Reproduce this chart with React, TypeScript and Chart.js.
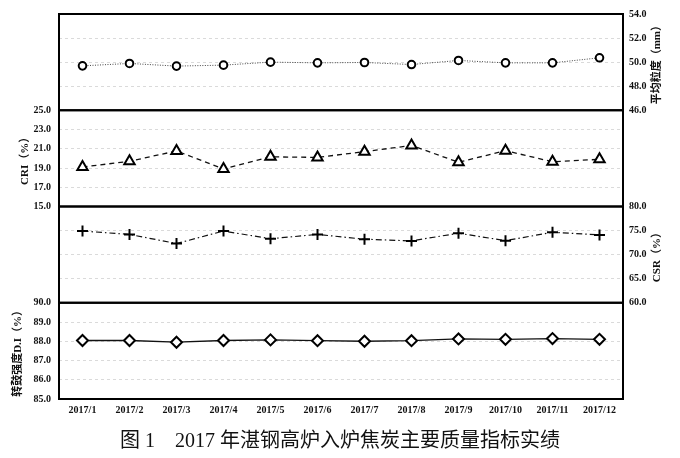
import React, { useEffect, useRef } from "react";
import { Chart, registerables } from "chart.js";

Chart.register(...registerables);

const months = ["2017/1", "2017/2", "2017/3", "2017/4", "2017/5", "2017/6", "2017/7", "2017/8", "2017/9", "2017/10", "2017/11", "2017/12"];
const avgSize = [49.69, 49.89, 49.67, 49.75, 50.0, 49.94, 49.97, 49.8, 50.14, 49.94, 49.94, 50.36];
const cri = [19.1, 19.7, 20.77, 18.9, 20.16, 20.1, 20.7, 21.34, 19.6, 20.8, 19.65, 19.9];
const csr = [74.9, 74.2, 72.3, 74.9, 73.3, 74.2, 73.2, 72.85, 74.45, 72.9, 74.65, 74.1];
const di = [88.04, 88.04, 87.95, 88.04, 88.07, 88.03, 88.0, 88.03, 88.12, 88.1, 88.14, 88.1];

const sizeTitle = "平均粒度（mm）";
const criTitle = "CRI（%）";
const csrTitle = "CSR（%）";
const diTitle = "转鼓强度D.I（%）";
const caption = "图 1　2017 年湛钢高炉入炉焦炭主要质量指标实绩";

const SERIF = "'Liberation Serif', 'Times New Roman', 'Noto Sans CJK SC', serif";
const LEFT_W = 59;
const RIGHT_W = 57;

const gridColor = (ctx: any) => {
  const s = ctx.scale;
  const v = ctx.tick ? ctx.tick.value : null;
  if (v === s.min || v === s.max) return "rgba(0,0,0,0)";
  return "#dadada";
};

function dataAxis(position: string, stack: string, weight: number, min: number, max: number, step: number) {
  return {
    type: "linear",
    position,
    stack,
    stackWeight: 1,
    weight,
    min,
    max,
    afterFit: (s: any) => {
      s.width = position === "left" ? LEFT_W : RIGHT_W;
    },
    ticks: {
      stepSize: step,
      autoSkip: false,
      padding: position === "left" ? 8 : 6,
      color: "#111",
      font: { family: SERIF, size: 10, weight: "bold" },
      callback: (v: any) => Number(v).toFixed(1),
    },
    grid: { color: gridColor, lineWidth: 1, drawTicks: false },
    border: { display: false, dash: [3, 3] },
  };
}

function dummyAxis(position: string, stack: string, weight: number) {
  return {
    type: "linear",
    position,
    stack,
    stackWeight: 1,
    weight,
    display: true,
    afterFit: (s: any) => {
      s.width = position === "left" ? LEFT_W : RIGHT_W;
    },
    ticks: { display: false },
    grid: { display: false, drawTicks: false },
    border: { display: false },
  };
}

const framePlugin = {
  id: "panelFrames",
  beforeDatasetsDraw(chart: any) {
    const { ctx, chartArea } = chart;
    ctx.save();
    ctx.strokeStyle = "#000";
    ctx.lineWidth = 2;
    ["ySize", "yCRI", "yCSR", "yDI"].forEach((id) => {
      const s = chart.scales[id];
      ctx.strokeRect(chartArea.left, s.top, chartArea.right - chartArea.left, s.bottom - s.top);
    });
    ctx.restore();
  },
  afterDraw(chart: any) {
    const { ctx } = chart;
    const items: [string, string, number][] = [
      ["ySize", sizeTitle, -23],
      ["yCSR", csrTitle, -23],
      ["yCRI", criTitle, 25],
      ["yDI", diTitle, 18],
    ];
    ctx.save();
    ctx.fillStyle = "#111";
    ctx.font = `bold 11px ${SERIF}`;
    ctx.textAlign = "center";
    ctx.textBaseline = "middle";
    items.forEach(([id, text, off]) => {
      const s = chart.scales[id];
      const x = off < 0 ? s.right + off : s.left + off;
      ctx.save();
      ctx.translate(x, (s.top + s.bottom) / 2);
      ctx.rotate(-Math.PI / 2);
      ctx.fillText(text, 0, 0);
      ctx.restore();
    });
    ctx.restore();
  },
};

export default function App() {
  const ref = useRef<HTMLCanvasElement | null>(null);

  useEffect(() => {
    if (!ref.current) return;
    const chart = new Chart(ref.current, {
      type: "line",
      data: {
        labels: months,
        datasets: [
          {
            label: "size",
            data: avgSize,
            yAxisID: "ySize",
            borderColor: "#444",
            borderWidth: 1,
            borderDash: [1, 1.5],
            pointStyle: "circle",
            pointRadius: 3.8,
            pointBorderWidth: 2,
            pointBackgroundColor: "#fff",
            pointBorderColor: "#000",
          },
          {
            label: "CRI",
            data: cri,
            yAxisID: "yCRI",
            borderColor: "#111",
            borderWidth: 1.3,
            borderDash: [5, 4],
            pointStyle: "triangle",
            pointRadius: 6,
            pointBorderWidth: 2,
            pointBackgroundColor: "#fff",
            pointBorderColor: "#000",
          },
          {
            label: "CSR",
            data: csr,
            yAxisID: "yCSR",
            borderColor: "#111",
            borderWidth: 1.2,
            borderDash: [6, 3, 1.5, 3],
            pointStyle: "cross",
            pointRadius: 5.5,
            pointBorderWidth: 2,
            pointBackgroundColor: "#fff",
            pointBorderColor: "#000",
          },
          {
            label: "DI",
            data: di,
            yAxisID: "yDI",
            borderColor: "#111",
            borderWidth: 1.3,
            pointStyle: "rectRot",
            pointRadius: 5.5,
            pointBorderWidth: 2,
            pointBackgroundColor: "#fff",
            pointBorderColor: "#000",
          },
        ],
      },
      options: {
        responsive: false,
        animation: false,
        layout: { padding: { top: 13, left: 0, right: 0, bottom: 0 } },
        plugins: {
          legend: { display: false },
          tooltip: { enabled: false },
          title: {
            display: true,
            position: "bottom",
            text: caption,
            color: "#111",
            padding: { top: 8, bottom: 4 },
            font: { family: SERIF, size: 20, weight: "normal" },
          },
        },
        scales: {
          x: {
            type: "category",
            offset: true,
            afterFit: (s: any) => {
              s.height = 23;
            },
            grid: { display: false, drawTicks: false },
            border: { display: false },
            ticks: {
              padding: 5,
              color: "#111",
              maxRotation: 0,
              autoSkip: false,
              font: { family: SERIF, size: 10, weight: "bold" },
            },
          },
          yL1: dummyAxis("left", "L", 4),
          yCRI: dataAxis("left", "L", 3, 15, 25, 2),
          yL3: dummyAxis("left", "L", 2),
          yDI: dataAxis("left", "L", 1, 85, 90, 1),
          ySize: dataAxis("right", "R", 1, 46, 54, 2),
          yR2: dummyAxis("right", "R", 2),
          yCSR: dataAxis("right", "R", 3, 60, 80, 5),
          yR4: dummyAxis("right", "R", 4),
        },
      } as any,
      plugins: [framePlugin],
    });
    return () => chart.destroy();
  }, []);

  return (
    <div style={{ position: "absolute", left: 0, top: 0, width: 680, height: 458, background: "#fff" }}>
      <canvas ref={ref} width={680} height={458} style={{ display: "block", width: 680, height: 458 }} />
    </div>
  );
}
